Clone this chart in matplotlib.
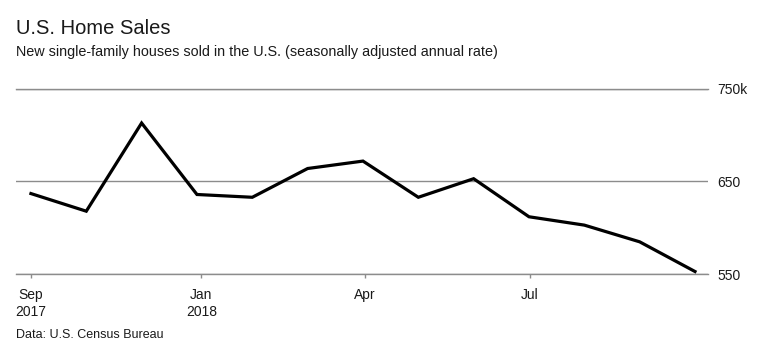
import matplotlib
matplotlib.use("Agg")
from matplotlib import pyplot as plt

matplotlib.rcParams.update({'font.family': ['Liberation Sans', 'DejaVu Sans']})

# new single-family home sales, thousands, SAAR (Sep 2017 - Sep 2018)
months = list(range(13))
sales = [637, 618, 713, 636, 633, 664, 672, 633, 653, 612, 603, 585, 553]

tick_pos = [0, 3.08, 6.03, 9.02]
tick_labels = ['Sep\n2017', 'Jan\n2018', 'Apr', 'Jul']
y_ticks = [550, 650, 750]
y_labels = ['550', '650', '750k']

grid_col = '#8c8c8c'
text_col = '#1a1a1a'

fig = plt.figure(figsize=(7.6, 3.49), dpi=100)
ax = fig.add_axes([16 / 760, 1 - 274.3 / 349, 692 / 760, 185.6 / 349])

ax.plot(months, sales, color='black', lw=2.3, solid_joinstyle='miter', zorder=3)

ax.set_xlim(-0.27, 12.235)
ax.set_ylim(550, 750)

for s in ['top', 'left', 'right']:
    ax.spines[s].set_visible(False)
ax.spines['bottom'].set_color(grid_col)
ax.spines['bottom'].set_linewidth(1)

ax.yaxis.grid(True, color=grid_col, lw=1)
ax.axhline(750, color=grid_col, lw=1, clip_on=False)
ax.set_yticks(y_ticks)
ax.set_yticklabels(y_labels)
ax.yaxis.tick_right()
ax.tick_params(axis='y', length=0, pad=7, labelsize=10, labelcolor=text_col)

ax.set_xticks(tick_pos)
ax.set_xticklabels(tick_labels, linespacing=1.3)
ax.tick_params(axis='x', length=3, width=1, color=grid_col, pad=7,
               labelsize=10, labelcolor=text_col)

fig.text(16 / 760, 1 - 34 / 349, 'U.S. Home Sales', fontsize=14.5,
         color=text_col, va='baseline')
fig.text(16 / 760, 1 - 56 / 349,
         'New single-family houses sold in the U.S. (seasonally adjusted annual rate)',
         fontsize=10.4, color=text_col, va='baseline')
fig.text(16 / 760, 1 - 338 / 349, 'Data: U.S. Census Bureau', fontsize=9,
         color=text_col, va='baseline')

fig.savefig('out.png', dpi=100, facecolor='white')
